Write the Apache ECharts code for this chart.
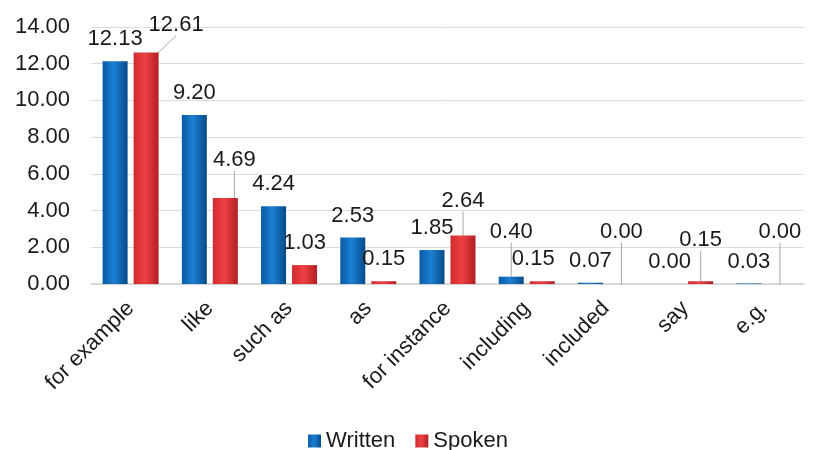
<!DOCTYPE html>
<html>
<head>
<meta charset="utf-8">
<script src="https://cdn.jsdelivr.net/npm/echarts@6/dist/echarts.min.js"></script>
<style>
  html, body { margin: 0; padding: 0; background: #fff; }
  #chart { width: 816px; height: 450px; }
</style>
</head>
<body>
<div id="chart"></div>
<script>
const categories = ['for example', 'like', 'such as', 'as', 'for instance', 'including', 'included', 'say', 'e.g.'];
const written = [12.13, 9.20, 4.24, 2.53, 1.85, 0.40, 0.07, 0.00, 0.03];
const spoken = [12.61, 4.69, 1.03, 0.15, 2.64, 0.15, 0.00, 0.15, 0.00];
const yTicks = [0, 2, 4, 6, 8, 10, 12, 14];

// Labels pulled away from their bars, with a guide line: [dx, dy] per index
const writtenMoved = { 5: [0, -23] };
const spokenMoved = { 0: [30, -6], 1: [9, -16], 4: [0, -13], 6: [0, -30], 7: [0, -19], 8: [0, -30] };
const spokenNudge = { 5: [-9, 0] };

const FONT = 'Liberation Sans, Arial, sans-serif';
const SIZE = 22;

function barGradient(edge, mid, dark) {
  return new echarts.graphic.LinearGradient(0, 0, 1, 0, [
    { offset: 0, color: edge },
    { offset: 0.45, color: mid },
    { offset: 1, color: dark }
  ]);
}

function makeData(values, moved) {
  return values.map((v, i) => moved[i]
    ? { value: v, labelLine: { show: true } }
    : { value: v });
}

function layoutFor(moved, nudge) {
  return function (p) {
    const m = moved[p.dataIndex] || (nudge && nudge[p.dataIndex]);
    if (!m) return {};
    return { dx: m[0], dy: m[1] };
  };
}

const labelStyle = {
  show: true,
  position: 'top',
  distance: 11,
  fontFamily: FONT,
  fontSize: SIZE,
  color: '#1a1a1a',
  formatter: p => p.value.toFixed(2)
};

const chart = echarts.init(document.getElementById('chart'), null, { renderer: 'canvas' });
chart.setOption({
  animation: false,
  grid: { left: 91, right: 12, top: 27, bottom: 166 },
  legend: {
    bottom: -7,
    left: 'center',
    icon: 'rect',
    itemWidth: 13,
    itemHeight: 13,
    itemGap: 20,
    itemStyle: { borderWidth: 0 },
    textStyle: { fontFamily: FONT, fontSize: SIZE, color: '#1a1a1a' },
    data: ['Written', 'Spoken']
  },
  xAxis: {
    type: 'category',
    data: categories,
    axisTick: { show: false },
    axisLine: { lineStyle: { color: '#d0d0d0', width: 1.5 } },
    axisLabel: {
      rotate: 45,
      interval: 0,
      margin: 21,
      fontFamily: FONT,
      fontSize: SIZE,
      color: '#1a1a1a'
    }
  },
  yAxis: {
    type: 'value',
    min: yTicks[0],
    max: yTicks[yTicks.length - 1],
    interval: 2,
    axisLine: { show: false },
    axisTick: { show: false },
    splitLine: { lineStyle: { color: '#dcdcdc', width: 1 } },
    axisLabel: {
      margin: 21,
      fontFamily: FONT,
      fontSize: SIZE,
      color: '#1a1a1a',
      formatter: v => v.toFixed(2)
    }
  },
  series: [
    {
      name: 'Written',
      type: 'bar',
      data: makeData(written, writtenMoved),
      barWidth: 25,
      barGap: '24%',
      itemStyle: {
        color: barGradient('#0a5aa3', '#1c80d4', '#084a88')
      },
      label: labelStyle,
      labelLine: { show: false, lineStyle: { color: '#a6a6a6', width: 1 } },
      labelLayout: layoutFor(writtenMoved)
    },
    {
      name: 'Spoken',
      type: 'bar',
      data: makeData(spoken, spokenMoved),
      barWidth: 25,
      itemStyle: {
        color: barGradient('#d02a2e', '#ee4043', '#b11f23')
      },
      label: labelStyle,
      labelLine: { show: false, lineStyle: { color: '#a6a6a6', width: 1 } },
      labelLayout: layoutFor(spokenMoved, spokenNudge)
    }
  ]
});
</script>
</body>
</html>
